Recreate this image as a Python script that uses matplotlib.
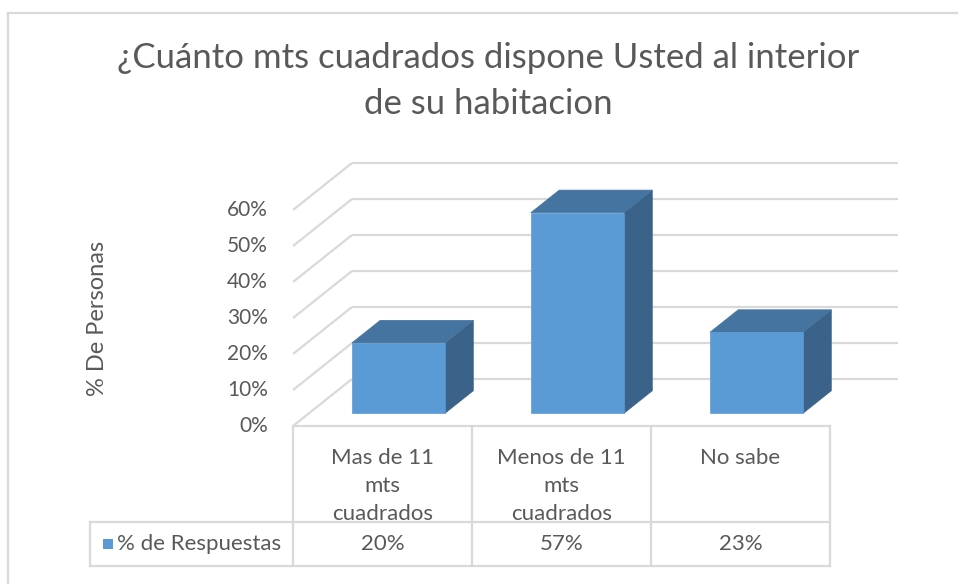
import matplotlib
matplotlib.use("Agg")
import matplotlib.pyplot as plt
from matplotlib.patches import Polygon, Rectangle

plt.rcParams['font.family'] = ['Lato', 'DejaVu Sans']

# ---- data ----
categories = ["Mas de 11\nmts\ncuadrados", "Menos de 11\nmts\ncuadrados", "No sabe"]
values = [20, 57, 23]
value_labels = ["20%", "57%", "23%"]
yticks = [0, 10, 20, 30, 40, 50, 60]
ytick_labels = ["0%", "10%", "20%", "30%", "40%", "50%", "60%"]
series_name = "% de Respuestas"
title = "¿Cuánto mts cuadrados dispone Usted al interior\nde su habitacion"
ylabel = "% De Personas"

W, H = 958, 584
fig = plt.figure(figsize=(W / 100, H / 100), dpi=100)

# pixel anchors for the front plane
PX0, PX_PER_CAT = 293, 179.0
PY0, PY_PER_PCT = 426, 3.6
ax = fig.add_axes([0, 0, 1, 1])
ax.set_xlim(-PX0 / PX_PER_CAT, (W - PX0) / PX_PER_CAT)
ax.set_ylim((PY0 - H) / PY_PER_PCT, PY0 / PY_PER_PCT)
ax.axis("off")

DX = 59 / PX_PER_CAT     # depth offset in category units
DY = 47 / PY_PER_PCT     # depth offset in percent units
grid_c = "#d9d9d9"
text_c = "#595959"
ncat = len(categories)
back_extra = 9 / PX_PER_CAT

def P(x, v, d):
    return (x + d * DX, v + d * DY)

# walls
for v in yticks:
    ax.plot([P(0, v, 0)[0], P(0, v, 1)[0]], [P(0, v, 0)[1], P(0, v, 1)[1]],
            color=grid_c, lw=1.6, solid_capstyle="butt", zorder=1)
    ax.plot([P(0, v, 1)[0], P(ncat, v, 1)[0] + back_extra], [P(0, v, 1)[1], P(ncat, v, 1)[1]],
            color=grid_c, lw=1.6, solid_capstyle="butt", zorder=1)

# bars
front_c, top_c, side_c = "#5b9bd5", "#4674a0", "#3b6389"
bw = 0.52
d0, d1 = 0.27, 0.75
hs = 3.52 / PY_PER_PCT
for i, v in enumerate(values):
    xl = i + (1 - bw) / 2
    xr = xl + bw
    h = v * hs
    side = [P(xr, 0, d0), P(xr, 0, d1), P(xr, h, d1), P(xr, h, d0)]
    top = [P(xl, h, d0), P(xr, h, d0), P(xr, h, d1), P(xl, h, d1)]
    front = [P(xl, 0, d0), P(xr, 0, d0), P(xr, h, d0), P(xl, h, d0)]
    ax.add_patch(Polygon(side, closed=True, fc=side_c, ec=side_c, lw=0.5, zorder=3))
    ax.add_patch(Polygon(top, closed=True, fc=top_c, ec=top_c, lw=0.5, zorder=3))
    ax.add_patch(Polygon(front, closed=True, fc=front_c, ec=front_c, lw=0.5, zorder=4))

# y tick labels
for v, lab in zip(yticks, ytick_labels):
    ax.text(-25 / PX_PER_CAT, v, lab, ha="right", va="center", fontsize=15, color=text_c)

# data table
def ypx(p):
    return (PY0 - p) / PY_PER_PCT

def xpx(p):
    return (p - PX0) / PX_PER_CAT

row1_bot = ypx(522)
row2_bot = ypx(566)
tbl_left = xpx(90)
tkw = dict(color=grid_c, lw=1.6, zorder=2, solid_capstyle="projecting")
ax.plot([0, ncat], [0, 0], **tkw)
for i in range(ncat + 1):
    ax.plot([i, i], [0, row2_bot], **tkw)
ax.plot([tbl_left, ncat], [row1_bot, row1_bot], **tkw)
ax.plot([tbl_left, ncat], [row2_bot, row2_bot], **tkw)
ax.plot([tbl_left, tbl_left], [row1_bot, row2_bot], **tkw)

for i, (c, lab) in enumerate(zip(categories, value_labels)):
    ax.text(i + 0.5, ypx(448), c, ha="center", va="top", fontsize=16,
            color=text_c, linespacing=1.5)
    ax.text(i + 0.5, (row1_bot + row2_bot) / 2, lab, ha="center", va="center",
            fontsize=16, color=text_c)

# legend key in table
ax.add_patch(Rectangle((xpx(103), ypx(549)), 10 / PX_PER_CAT, 10 / PY_PER_PCT,
                       fc=front_c, ec="none", zorder=3))
ax.text(xpx(117), (row1_bot + row2_bot) / 2, series_name, ha="left", va="center",
        fontsize=16, color=text_c)

# axis title
fig.text(97 / W, 1 - 318 / H, ylabel, rotation=90, ha="center", va="center",
         fontsize=17, color=text_c)

# chart title
fig.text(488 / W, 1 - 81 / H, title, ha="center", va="center", fontsize=25,
         color=text_c, linespacing=1.5)

# outer border (top and left visible)
fig.add_artist(plt.Line2D([8 / W, 8 / W], [0, 1 - 13 / H], transform=fig.transFigure,
                          color=grid_c, lw=1.6))
fig.add_artist(plt.Line2D([8 / W, 1], [1 - 13 / H, 1 - 13 / H], transform=fig.transFigure,
                          color=grid_c, lw=1.6))

fig.savefig("out.png", dpi=100, facecolor="white")
